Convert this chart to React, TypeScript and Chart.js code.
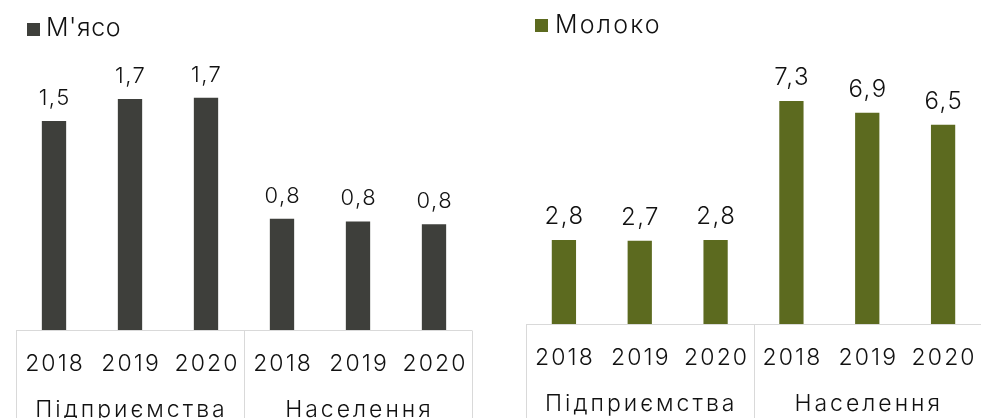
import React, { useEffect, useRef } from "react";
import { Chart, registerables } from "chart.js";

Chart.register(...registerables);

// ---- data ----
const years = ["2018", "2019", "2020", "2018", "2019", "2020"];
const groups = ["Підприємства", "Населення"];
const meatName = "М'ясо";
const milkName = "Молоко";
const meatValues = [1.52, 1.68, 1.69, 0.81, 0.79, 0.77];
const milkValues = [2.76, 2.73, 2.76, 7.32, 6.94, 6.54];

const FONT = 'Inter, "DejaVu Sans", sans-serif';
const fmt = (v: number) => v.toFixed(1).replace(".", ",");

type PanelOpts = {
  name: string;
  color: string;
  labelSize: number;
  labelSpacing: number;
  yearSize: number;
  yearSpacing: number;
  groupSize: number;
  groupSpacing: number;
  legendBox: [number, number];
  legendText: [number, number];
  legendSize: number;
  legendSpacing: number;
};

function makePlugin(o: PanelOpts) {
  return {
    id: "panelDecor",
    afterDatasetsDraw(chart: any) {
      const ctx = chart.ctx as CanvasRenderingContext2D;
      const { left, right, bottom } = chart.chartArea;
      const xs = chart.scales.x;
      const H = chart.height;
      ctx.save();
      // data labels
      const meta = chart.getDatasetMeta(0);
      const vals = chart.data.datasets[0].data as number[];
      ctx.fillStyle = "#111";
      ctx.textAlign = "center";
      ctx.textBaseline = "alphabetic";
      (ctx as any).letterSpacing = `${o.labelSpacing}px`;
      ctx.font = `300 ${o.labelSize}px ${FONT}`;
      meta.data.forEach((bar: any, i: number) => {
        ctx.fillText(fmt(vals[i]), bar.x + o.labelSpacing / 2, bar.y - 16);
      });
      // box
      const mid = (xs.getPixelForValue(2) + xs.getPixelForValue(3)) / 2;
      ctx.strokeStyle = "#d9d9d9";
      ctx.lineWidth = 1;
      const yb = Math.round(bottom) + 0.5;
      ctx.beginPath();
      ctx.moveTo(left, yb);
      ctx.lineTo(right, yb);
      [left, mid, right].forEach((x) => {
        const px = Math.round(x) + 0.5;
        ctx.moveTo(px, yb);
        ctx.lineTo(px, H);
      });
      ctx.stroke();
      // years
      ctx.fillStyle = "#111";
      (ctx as any).letterSpacing = `${o.yearSpacing}px`;
      ctx.font = `300 ${o.yearSize}px ${FONT}`;
      years.forEach((y, i) => {
        ctx.fillText(y, xs.getPixelForValue(i) + o.yearSpacing / 2, bottom + 40.5);
      });
      // groups
      ctx.font = `300 ${o.groupSize}px ${FONT}`;
      (ctx as any).letterSpacing = `${o.groupSpacing}px`;
      const centers = [(left + mid) / 2, (mid + right) / 2];
      groups.forEach((g, i) => {
        ctx.fillText(g, centers[i] + o.groupSpacing / 2, bottom + 86.5);
      });
      // legend
      (ctx as any).letterSpacing = `${o.legendSpacing}px`;
      ctx.fillStyle = o.color;
      ctx.fillRect(o.legendBox[0], o.legendBox[1], 13, 13);
      ctx.fillStyle = "#111";
      ctx.textAlign = "left";
      ctx.font = `300 ${o.legendSize}px ${FONT}`;
      ctx.fillText(o.name, o.legendText[0], o.legendText[1]);
      (ctx as any).letterSpacing = "0px";
      ctx.restore();
    },
  };
}

function Panel(props: {
  values: number[];
  max: number;
  padding: { left: number; right: number; top: number; bottom: number };
  width: number;
  x: number;
  opts: PanelOpts;
}) {
  const ref = useRef<HTMLCanvasElement>(null);
  useEffect(() => {
    if (!ref.current) return;
    const chart = new Chart(ref.current, {
      type: "bar",
      data: {
        labels: years,
        datasets: [
          {
            label: props.opts.name,
            data: props.values,
            backgroundColor: props.opts.color,
            categoryPercentage: 1,
            barPercentage: 0.32,
          },
        ],
      },
      options: {
        responsive: false,
        animation: false,
        layout: { padding: props.padding },
        plugins: { legend: { display: false }, tooltip: { enabled: false } },
        scales: {
          x: { display: false, offset: true },
          y: { display: false, min: 0, max: props.max },
        },
      },
      plugins: [makePlugin(props.opts)],
    });
    return () => chart.destroy();
  }, []);
  return (
    <canvas
      ref={ref}
      width={props.width}
      height={418}
      style={{ position: "absolute", left: props.x, top: 0, width: props.width, height: 418 }}
    />
  );
}

export default function App() {
  return (
    <div style={{ position: "fixed", left: 0, top: 0, width: 981, height: 418, background: "#fff" }}>
      <Panel
        values={meatValues}
        max={2}
        width={490}
        x={0}
        padding={{ left: 16, right: 18, top: 55, bottom: 88 }}
        opts={{
          name: meatName,
          color: "#3e3f3b",
          labelSize: 22,
          labelSpacing: 1.5,
          yearSize: 23,
          yearSpacing: 2.1,
          groupSize: 23,
          groupSpacing: 3.0,
          legendBox: [27, 23],
          legendText: [46, 35.5],
          legendSize: 25,
          legendSpacing: 0.6,
        }}
      />
      <Panel
        values={milkValues}
        max={8}
        width={491}
        x={490}
        padding={{ left: 36, right: 0, top: 80.4, bottom: 94 }}
        opts={{
          name: milkName,
          color: "#5c6a1f",
          labelSize: 24,
          labelSpacing: 1.5,
          yearSize: 23,
          yearSpacing: 2.1,
          groupSize: 23,
          groupSpacing: 3.0,
          legendBox: [45, 19],
          legendText: [65, 33.3],
          legendSize: 25,
          legendSpacing: 2.2,
        }}
      />
    </div>
  );
}
